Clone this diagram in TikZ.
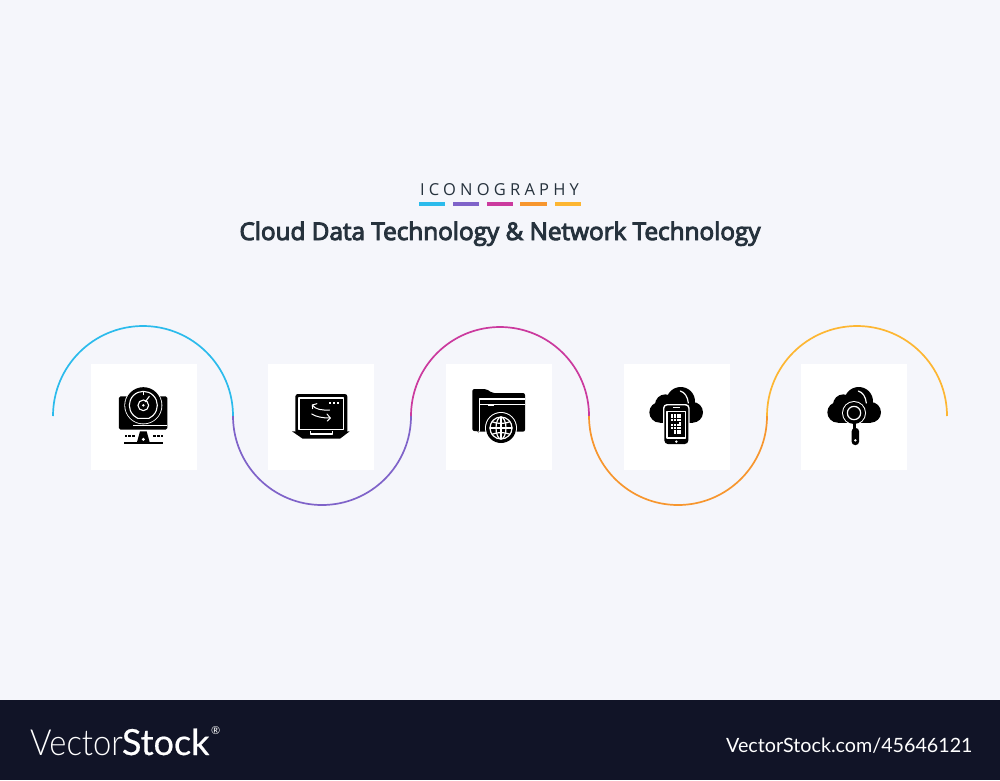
\documentclass[tikz,border=0pt]{standalone}
\usepackage{fontspec}
\setmainfont{Open Sans}
\newfontfamily\urlfont{Lato}
\definecolor{bgc}{HTML}{F5F6FB}
\definecolor{band}{HTML}{111427}
\definecolor{ink}{HTML}{26323D}
\definecolor{cA}{HTML}{2BBBEC}
\definecolor{cB}{HTML}{7F63C9}
\definecolor{cC}{HTML}{CB3A9E}
\definecolor{cD}{HTML}{F7962E}
\definecolor{cE}{HTML}{FDB632}
\tikzset{
  tile/.style={fill=white,draw=none,minimum size=106pt,inner sep=0pt,outer sep=0pt},
  wave/.style={line width=1.7pt,line cap=butt},
  bar/.style={fill=#1,draw=none},
  icon/.style={x=0.3333pt,y=-0.3333pt},
  wl/.style={draw=white,line width=#1,line cap=round,line join=round},
  wl/.default=1.2pt
}
\newcommand{\cloudfill}{%
  \fill[black] (173,115) circle (43);
  \fill[black] (127,125) circle (31);
  \fill[black] (110,148) circle (31);
  \fill[black] (209,148) circle (31);
  \fill[black] (110,130) rectangle (209,179);
  \draw[wl=1.2pt] (172,84) .. controls (186,88) and (194,102) .. (196,120);
}
\begin{document}
\begin{tikzpicture}[x=1pt,y=-1pt]
\useasboundingbox (0,0) rectangle (1000,780);
\fill[bgc] (0,0) rectangle (1000,780);
\fill[band] (0,700) rectangle (1000,780);
% header
\node[font=\fontsize{16.5}{20}\selectfont\addfontfeature{LetterSpace=25.5},text=ink,inner sep=0pt,anchor=center] (kicker) at (499.5,189.5) {ICONOGRAPHY};
\fill[bar=cA] (419,202) rectangle (445,205.5);
\fill[bar=cB] (453,202) rectangle (479,205.5);
\fill[bar=cC] (487,202) rectangle (513,205.5);
\fill[bar=cD] (520,202) rectangle (547,205.5);
\fill[bar=cE] (555,202) rectangle (581,205.5);
\node[text=ink,inner sep=0pt,anchor=base] (title) at (500,240) {\fontsize{24.3}{30}\fontspec{Open Sans}[FakeBold=4]\selectfont Cloud Data Technology \& Network Technology};
% tiles
\node[tile] (box1) at (144,417) {};
\node[tile] (box2) at (321,417) {};
\node[tile] (box3) at (499,417) {};
\node[tile] (box4) at (676.5,417) {};
\node[tile] (box5) at (854,417) {};
% waves
\draw[wave,cA] (53,416) arc (180:360:90);
\draw[wave,cB] (233,416) arc (180:0:89);
\draw[wave,cC] (411,416) arc (180:360:89);
\draw[wave,cD] (589,416) arc (180:0:89);
\draw[wave,cE] (767,416) arc (180:360:90);
% icon 1
\begin{scope}[shift={(90,363)},icon]
\fill[black,rounded corners=1.5pt] (87,100) rectangle (232,200);
\fill[white] (128,186) rectangle (232,188.5);
\fill[white] (160,127) circle (57);
\fill[black] (160,127) circle (54.5);
\draw[wl=1.1pt] (160,127) ++(135:42) arc (135:405:42);
\draw[wl=1.1pt] (130,157) -- (143,166) -- (177,166) -- (190,157);
\draw[wl=1.1pt] (160,127) circle (16);
\fill[white] (160,127) circle (4);
\draw[wl=1.1pt] (166,116) -- (178,100);
\draw[wl=1pt] (160,86) -- (160,95);
\fill[black] (140,241) -- (150,205) -- (170,205) -- (180,241) -- cycle;
\fill[white] (160,229) circle (5);
\foreach \xx in {104,115,126,190,201,212}{\fill[black] (\xx,217) rectangle ++(8,6);}
\fill[black] (102,238) rectangle (218,242);
\end{scope}
% icon 2
\begin{scope}[shift={(268,363)},icon]
\fill[black,rounded corners=2.5pt] (82,93) rectangle (238,210);
\draw[wl=1.1pt,line cap=butt] (93,105) rectangle (227,200);
\fill[black] (72,205) -- (245,205) -- (216,227) -- (104,227) -- cycle;
\draw[wl=1.1pt,line cap=butt] (127,203) -- (127,213) -- (193,213) -- (193,203);
\foreach \xx in {186,198,210}{\fill[white] (\xx-3.5,116.5) rectangle ++(7,7);}
\draw[wl=1pt] (185,141) .. controls (162,142) and (142,140) .. (133,126);
\draw[wl=1pt] (133,126) -- (147,122) (133,126) -- (134,137);
\draw[wl=1pt] (131,153) .. controls (142,161) and (168,166) .. (187,165);
\draw[wl=1pt] (187,165) -- (178,174) (187,165) -- (177,153);
\end{scope}
% icon 3
\begin{scope}[shift={(445,363)},icon]
\fill[black,rounded corners=2pt] (82,78) -- (124,78) -- (142,90) -- (240,90) -- (240,206) -- (100,206) -- (100,204) -- (82,204) -- cycle;
\draw[wl=1.2pt,line cap=butt] (240,108) -- (103,108) -- (103,204);
\draw[wl=1.2pt,line cap=butt] (103,124) -- (240,124);
\draw[wl=1.2pt,line cap=butt] (130,127) -- (147,127);
\fill[white] (168,195) circle (48);
\fill[black] (168,195) circle (45);
\draw[wl=1.2pt] (168,195) circle (33);
\draw[wl=1.2pt] (168,195) ellipse (15 and 33);
\draw[wl=1.2pt] (168,162) -- (168,228);
\draw[wl=1.2pt] (135,195) -- (201,195);
\draw[wl=1.2pt] (141,176) .. controls (155,183) and (181,183) .. (195,176);
\draw[wl=1.2pt] (141,214) .. controls (155,207) and (181,207) .. (195,214);
\end{scope}
% icon 4
\begin{scope}[shift={(623,363)},icon]
\cloudfill
\fill[white,rounded corners=4pt] (120,123) rectangle (200,246);
\fill[black,rounded corners=3.5pt] (124,127) rectangle (196,243);
\draw[wl=1.1pt,line cap=butt] (132,145) rectangle (188,225);
\draw[wl=1.2pt,line cap=butt] (150,134) -- (170,134);
\fill[white] (160,236) circle (4);
\foreach \yy in {155,163,171}{\foreach \xx in {148,156,164,172}{\fill[white] (\xx-3,\yy-3) rectangle ++(6,6);}}
\foreach \yy in {179}{\foreach \xx in {172}{\fill[white] (\xx-3,\yy-3) rectangle ++(6,6);}}
\foreach \yy in {187,195}{\foreach \xx in {148,156,164,172}{\fill[white] (\xx-3,\yy-3) rectangle ++(6,6);}}
\foreach \yy in {203,211}{\foreach \xx in {156,164,172}{\fill[white] (\xx-3,\yy-3) rectangle ++(6,6);}}
\end{scope}
% icon 5
\begin{scope}[shift={(801,363)},icon]
\cloudfill
\fill[white] (159,150) circle (36);
\fill[black] (159,150) circle (33);
\draw[wl=1.2pt] (159,150) circle (20);
\fill[black] (155,180) rectangle (166,197);
\fill[black,rounded corners=3.2pt] (152,195) rectangle (174,246);
\fill[white] (163,232) circle (4);
\end{scope}
% footer
\node[text=white,inner sep=0pt,anchor=base west] (logo) at (30,755) {\fontsize{36}{42}\selectfont\scalebox{0.91}[1]{\fontspec{Lato Light}Vector}\kern-1pt\scalebox{1.0}[1]{\fontspec{Lato}[FakeBold=0.5]\fontsize{36}{42}\selectfont Stock}};
\node[font=\fontsize{11}{13}\selectfont\urlfont,text=white,inner sep=0pt,anchor=west] (reg) at (211,731) {®};
\node[font=\fontsize{19.7}{22}\selectfont\urlfont,text=white,inner sep=0pt,anchor=base west] (url) at (726,752.5) {VectorStock.com/45646121};
\end{tikzpicture}
\end{document}
